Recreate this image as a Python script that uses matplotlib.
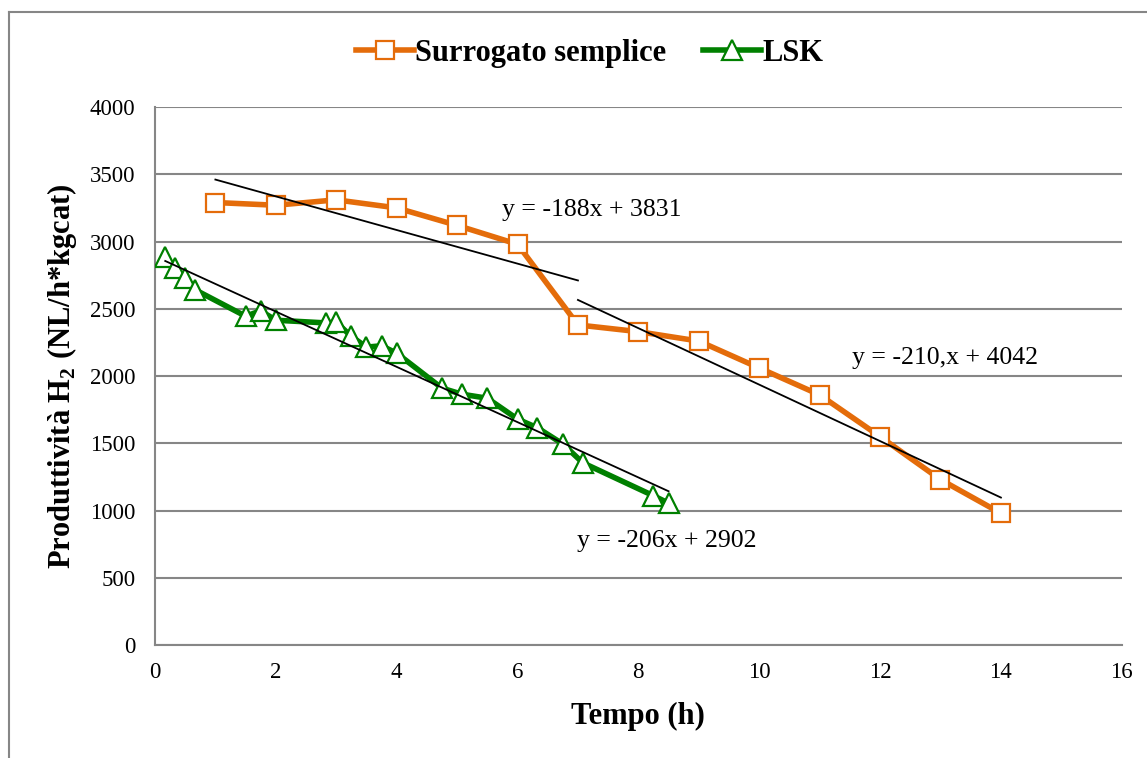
import numpy as np
import matplotlib
matplotlib.use("Agg")
import matplotlib.pyplot as plt
from matplotlib.lines import Line2D

plt.rcParams['font.family'] = ['Liberation Serif', 'DejaVu Serif']
plt.rcParams['mathtext.fontset'] = 'custom'
plt.rcParams['mathtext.rm'] = 'Liberation Serif'
plt.rcParams['mathtext.bf'] = 'Liberation Serif:bold'

# Dati
tempo_surr = [1, 2, 3, 4, 5, 6, 7, 8, 9, 10, 11, 12, 13, 14]
prod_surr = [3290, 3270, 3310, 3250, 3120, 2980, 2380, 2330, 2260, 2060, 1860, 1550, 1230, 980]

tempo_lsk = [0.17, 0.33, 0.5, 0.67, 1.5, 1.75, 2.0, 2.83, 3.0, 3.25, 3.5, 3.75, 4.0,
             4.75, 5.08, 5.5, 6.0, 6.33, 6.75, 7.08, 8.25, 8.5]
prod_lsk = [2885, 2800, 2730, 2640, 2445, 2485, 2415, 2395, 2400, 2295, 2215, 2225, 2170,
            1910, 1865, 1835, 1680, 1615, 1495, 1355, 1110, 1055]

etichette_trend = ["y = -188x + 3831", "y = -210,x + 4042", "y = -206x + 2902"]

arancio = "#E46C0A"
verde = "#008000"
grigio = "#868686"

fig = plt.figure(figsize=(11.47, 7.58), dpi=100)
ax = fig.add_axes([0.1351, 0.149, 0.8429, 0.7098])

ax.plot(tempo_surr, prod_surr, color=arancio, lw=4, marker="s", markersize=13.5,
        markerfacecolor="white", markeredgecolor=arancio, markeredgewidth=1.6,
        label="Surrogato semplice", zorder=3)
ax.plot(tempo_lsk, prod_lsk, color=verde, lw=4, marker="^", markersize=14.5,
        markerfacecolor="white", markeredgecolor=verde, markeredgewidth=1.6,
        label="LSK", zorder=3)

# Linee di tendenza
def tendenza(xs, ys):
    k, b = np.polyfit(xs, ys, 1)
    xx = np.array([min(xs), max(xs)])
    ax.plot(xx, k * xx + b, color="black", lw=1.3, zorder=4)

tendenza(tempo_surr[:7], prod_surr[:7])
tendenza(tempo_surr[6:], prod_surr[6:])
tendenza(tempo_lsk, prod_lsk)

ax.text(7.23, 3234, etichette_trend[0], fontsize=18.5, ha="center", va="center")
ax.text(13.07, 2134, etichette_trend[1], fontsize=18.5, ha="center", va="center")
ax.text(8.47, 773, etichette_trend[2], fontsize=18.5, ha="center", va="center")

ax.set_xlim(0, 16)
ax.set_ylim(0, 4000)
ax.set_xticks(range(0, 17, 2))
ax.set_yticks(range(0, 4001, 500))
ax.tick_params(length=0, labelsize=16.5)
ax.tick_params(axis="y", pad=14)
ax.tick_params(axis="x", pad=12)

ax.grid(axis="y", color=grigio, lw=1.5)
ax.set_axisbelow(True)
for lato in ["top", "right"]:
    ax.spines[lato].set_visible(False)
for lato in ["left", "bottom"]:
    ax.spines[lato].set_color(grigio)
    ax.spines[lato].set_linewidth(1.5)

ax.set_xlabel("Tempo (h)", fontsize=22, fontweight="bold", labelpad=14)
ax.set_ylabel("Produttività H$_\\mathbf{2}$ (NL/h*kgcat)", fontsize=22, fontweight="bold", labelpad=8)

fig.legend(loc="center", bbox_to_anchor=(0.514, 0.930), ncol=2, frameon=False,
           prop={"size": 22, "weight": "bold"}, handlelength=1.9, handletextpad=0.05,
           columnspacing=1.2)

# Bordo esterno
fig.add_artist(Line2D([9 / 1147, 9 / 1147], [0, 1 - 12 / 758], color=grigio, lw=1.5,
                      transform=fig.transFigure))
fig.add_artist(Line2D([9 / 1147, 1], [1 - 12 / 758, 1 - 12 / 758], color=grigio, lw=1.5,
                      transform=fig.transFigure))

fig.savefig("out.png", dpi=100)
